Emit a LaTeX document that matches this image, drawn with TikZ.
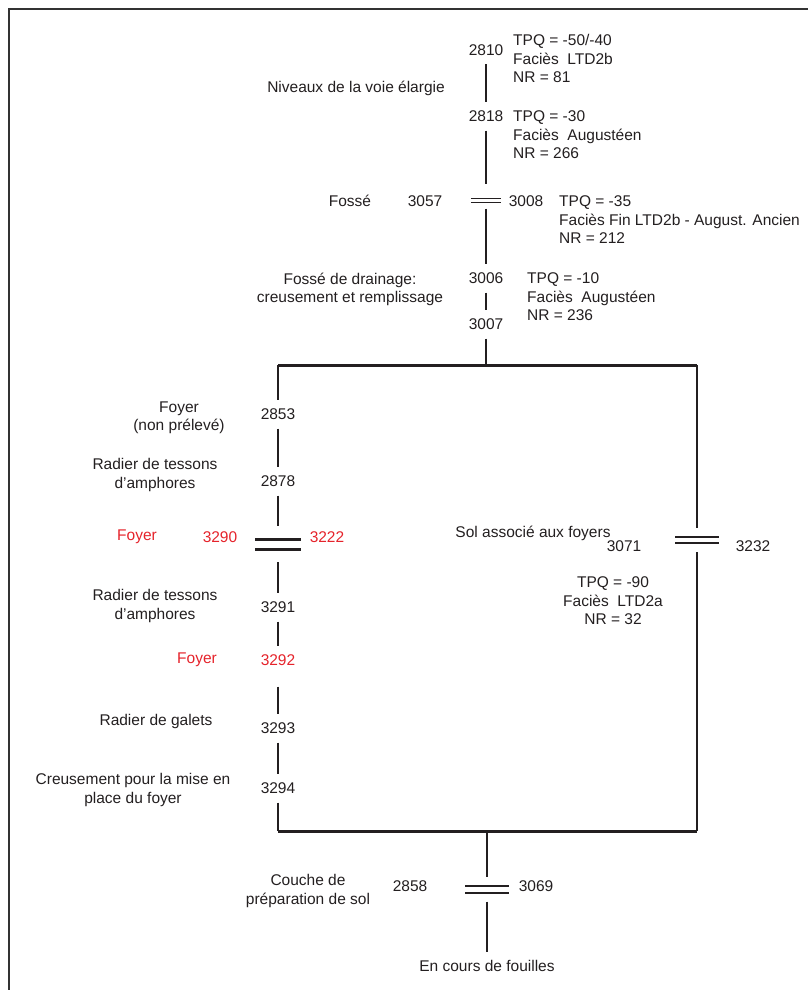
\documentclass[tikz,border=0pt]{standalone}
\usepackage{fontspec}
\setmainfont{Liberation Sans}
\usepackage{tikz}
\usetikzlibrary{positioning}
\definecolor{ink}{HTML}{231F20}
\definecolor{foyerred}{HTML}{E5232B}
\definecolor{framegray}{HTML}{333333}

\begin{document}
\begin{tikzpicture}[
  x=1pt, y=-1pt,
  every node/.style={font=\fontsize{15.5}{18.5}\selectfont, text=ink, inner sep=0pt},
  unit/.style={text height=11pt, text depth=0pt, outer ysep=9pt},
  info/.style={align=left, anchor=north west},
  desc/.style={align=center, anchor=north},
  hot/.style={text=foyerred},
  dbar/.style={minimum width=#1, minimum height=24pt},
  hbar/.style={minimum width=#1, minimum height=36pt},
  link/.style={draw=ink, line width=1.7pt},
  thinlink/.style={draw=ink, line width=1.1pt},
  heavy/.style={draw=ink, line width=3pt},
  barline/.style={draw=ink, line width=1.3pt}
]
\useasboundingbox (0,0) rectangle (808,990);
\draw[framegray, line width=2pt] (9,990) -- (9,9) -- (808,9);

% top column: voie and fosses
\node[unit] (u2810) at (486,50) {2810};
\node[info] (i2810) at (513,34.5) {TPQ = -50/-40\\Faciès\ \ LTD2b\\NR = 81};
\node (niveaux) at (356,88) {Niveaux de la voie élargie};
\node[unit] (u2818) at (486,116) {2818};
\node[info] (i2818) at (513,110.5) {TPQ = -30\\Faciès\ \ Augustéen\\NR = 266};

\node[dbar=30pt] (b3057) at (486,200.5) {};
\node (fosse) at (350,201) {Fossé};
\node (u3057) at (425,201) {3057};
\node (u3008) at (526,201) {3008};
\node[info] (i3008) at (559,195.5) {TPQ = -35\\Faciès Fin LTD2b - August. Ancien\\NR = 212};

\node[unit] (u3006) at (486,278) {3006};
\node[desc] (drainage) at (350,272.5) {Fossé de drainage:\\creusement et remplissage};
\node[info] (i3006) at (527,272.5) {TPQ = -10\\Faciès\ \ Augustéen\\NR = 236};
\node[unit] (u3007) at (486,324) {3007};

% bracket corners
\coordinate (tm) at (486,365);
\coordinate (tl) at (278,365);
\coordinate (tr) at (697,365);
\coordinate (bl) at (278,831);
\coordinate (br) at (697,831);
\coordinate (bm) at (487,831);

% left column: foyers
\node[unit] (u2853) at (278,414) {2853};
\node[desc] (foyer1) at (179,401.5) {Foyer\\(non prélevé)};
\node[unit] (u2878) at (278,481) {2878};
\node[desc] (radier1) at (155,458.5) {Radier de tessons\\d’amphores};

\node[hbar=45pt] (b3290) at (278,544) {};
\node[hot] (foyer2) at (137,537) {Foyer};
\node[hot] (u3290) at (220,537) {3290};
\node[hot] (u3222) at (327,537) {3222};

\node[unit] (u3291) at (278,607) {3291};
\node[desc] (radier2) at (155,589.5) {Radier de tessons\\d’amphores};
\node[unit, hot] (u3292) at (278,660) {3292};
\node[hot] (foyer3) at (197,660) {Foyer};
\node[unit] (u3293) at (278,728) {3293};
\node (galets) at (156,721) {Radier de galets};
\node[unit] (u3294) at (278,788) {3294};
\node[desc] (creusement) at (133,773.5) {Creusement pour la mise en\\place du foyer};

% right column: sol
\node[dbar=43pt] (b3071) at (697,540) {};
\node (sol) at (533,533) {Sol associé aux foyers};
\node (u3071) at (624,546) {3071};
\node (u3232) at (753,546) {3232};
\node[desc] (i3071) at (613,576.5) {TPQ = -90\\Faciès\ \ LTD2a\\NR = 32};

% bottom
\node[dbar=43pt] (b3069) at (487,889.5) {};
\node (u2858) at (410,886) {2858};
\node (u3069) at (536,886) {3069};
\node[desc] (couche) at (308,874.5) {Couche de\\préparation de sol};
\node[unit] (fouilles) at (487,966) {En cours de fouilles};

\foreach \b/\g in {b3057/2, b3071/3, b3069/3.5}
  \draw[barline] ([yshift=\g pt]\b.west) -- ([yshift=\g pt]\b.east)
                 ([yshift=-\g pt]\b.west) -- ([yshift=-\g pt]\b.east);
\draw[heavy] ([yshift=5pt]b3290.west) -- ([yshift=5pt]b3290.east)
             ([yshift=-5pt]b3290.west) -- ([yshift=-5pt]b3290.east);

\draw[link] (u2810) -- (u2818);
\draw[link, shorten >=4pt] (u2818) -- (b3057);
\draw[link, shorten <=-4pt] (b3057) -- (u3006);
\draw[link] (u3006) -- (u3007);
\draw[link] (u3007) -- (tm);
\draw[heavy] (tl) -- (tr);
\draw[link] (tl) -- (u2853);
\draw[link] (u2853) -- (u2878);
\draw[link] (u2878) -- (b3290);
\draw[link] (b3290) -- (u3291);
\draw[link] (u3291) -- (u3292);
\draw[link, shorten <=12pt] (u3292) -- (u3293);
\draw[link] (u3293) -- (u3294);
\draw[link] (u3294) -- (bl);
\draw[thinlink] (tr) -- (b3071);
\draw[link] (b3071) -- (br);
\draw[heavy] (bl) -- (br);
\draw[link] (bm) -- (b3069);
\draw[link] (b3069) -- (fouilles);

\end{tikzpicture}
\end{document}
